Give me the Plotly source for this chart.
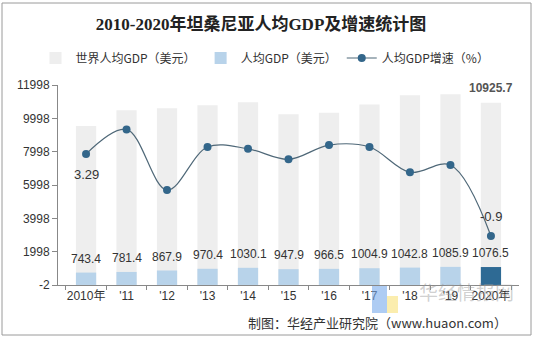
import plotly.graph_objects as go

years = ["2010年", "'11", "'12", "'13", "'14", "'15", "'16", "'17", "'18", "'19", "2020年"]
world_gdp = [9540, 10480, 10600, 10790, 10960, 10240, 10330, 10830, 11390, 11440, 10925.7]
tz_gdp = [743.4, 781.4, 867.9, 970.4, 1030.1, 947.9, 966.5, 1004.9, 1042.8, 1085.9, 1076.5]
tz_growth = [3.29, 4.55, 1.45, 3.65, 3.56, 3.02, 3.75, 3.65, 2.36, 2.73, -0.9]

W, H = 534, 338
L, R, T, B = 58, 15, 85, 53
pw, ph = W - L - R, H - T - B


def px(x):
    return (x - L) / pw


def py(y):
    return (H - B - y) / ph


font = "Liberation Sans, Arial, Noto Sans CJK SC, sans-serif"
cjk = "Noto Sans CJK SC, Liberation Sans, sans-serif"

fig = go.Figure()
fig.add_trace(go.Bar(
    x=years, y=world_gdp, name="世界人均GDP（美元）",
    marker=dict(color="#eeeeee", line=dict(width=0)), width=0.5,
))
fig.add_trace(go.Bar(
    x=years, y=tz_gdp, name="人均GDP（美元）",
    marker=dict(color=["#b8d3ea"] * 10 + ["#2e6a94"], line=dict(width=0)), width=0.5,
))
fig.add_trace(go.Scatter(
    x=years, y=tz_growth, name="人均GDP增速（%）", yaxis="y2",
    mode="lines+markers", line=dict(color="#4f6878", width=1.2, shape="spline", smoothing=1.0),
    marker=dict(color="#33668a", size=8),
))

ann = []
for i, v in enumerate(tz_gdp):
    ann.append(dict(x=i, y=v, xref="x", yref="y", text=f"{v}", showarrow=False,
                    yanchor="bottom", yshift=5, font=dict(size=12, color="#333333", family=font)))
ann.append(dict(x=len(years) - 1, y=world_gdp[-1], xref="x", yref="y", text=f"{world_gdp[-1]}",
                showarrow=False, yanchor="bottom", yshift=6,
                font=dict(size=12, color="#555555", family=font, weight="bold")))
ann.append(dict(x=0, y=tz_growth[0], xref="x", yref="y2", text=f"{tz_growth[0]}",
                showarrow=False, yanchor="top", yshift=-11,
                font=dict(size=13, color="#333333", family=font)))
ann.append(dict(x=len(years) - 1, y=tz_growth[-1], xref="x", yref="y2", text=f"{tz_growth[-1]}",
                showarrow=False, yanchor="bottom", yshift=10,
                font=dict(size=13, color="#333333", family=font)))
# watermark
ann.append(dict(x=px(466), y=py(291), xref="paper", yref="paper", text="华经情报网",
                xanchor="center", yanchor="middle",
                showarrow=False, font=dict(size=19, color="rgba(150,150,150,0.45)", family=cjk)))
# source
ann.append(dict(x=px(509), y=py(322), xref="paper", yref="paper",
                text="制图：华经产业研究院（www.huaon.com）", showarrow=False,
                xanchor="right", yanchor="middle",
                font=dict(size=13, color="#333333", family=cjk)))

shapes = [
    dict(type="rect", xref="paper", yref="paper", x0=px(2), x1=px(531), y0=py(335), y1=py(3),
         line=dict(color="#9a9a9a", width=1), fillcolor="rgba(0,0,0,0)", layer="below"),
    dict(type="rect", xref="paper", yref="paper", x0=px(372), x1=px(387), y0=py(313), y1=py(286),
         line=dict(width=0), fillcolor="rgba(120,170,235,0.6)", layer="above"),
    dict(type="rect", xref="paper", yref="paper", x0=px(387), x1=px(398), y0=py(313), y1=py(296),
         line=dict(width=0), fillcolor="rgba(250,230,140,0.7)", layer="above"),
]

fig.update_layout(
    width=W, height=H, margin=dict(l=L, r=R, t=T, b=B),
    paper_bgcolor="white", plot_bgcolor="white",
    barmode="overlay", bargap=0.5,
    title=dict(text="<b>2010-2020年坦桑尼亚人均GDP及增速统计图</b>", x=px(261), xref="paper",
               y=1 - 24 / H, yanchor="middle", xanchor="center",
               font=dict(size=17, color="#222222", family="Liberation Serif, Noto Sans CJK SC, serif")),
    legend=dict(orientation="h", x=px(265), xanchor="center", xref="paper", y=py(58), yanchor="middle",
                font=dict(size=12, color="#333333", family=cjk), itemwidth=30, traceorder="normal",
                bgcolor="rgba(0,0,0,0)", tracegroupgap=0),
    showlegend=True,
    xaxis=dict(type="category", tickson="boundaries", tickangle=0,
               ticks="outside", ticklen=4, tickcolor="#888888", showline=True, linecolor="#888888",
               tickfont=dict(size=12, color="#333333", family=font), showgrid=False),
    yaxis=dict(range=[-2, 11998], tickvals=[-2, 1998, 3998, 5998, 7998, 9998, 11998],
               ticktext=["-2", "1998", "3998", "5998", "7998", "9998", "11998"],
               ticks="outside", ticklen=5, tickcolor="#888888", showline=True, linecolor="#888888",
               showgrid=False, zeroline=False,
               tickfont=dict(size=12, color="#333333", family=font)),
    yaxis2=dict(range=[-3.4, 6.82], overlaying="y", side="right", visible=False, showgrid=False),
    annotations=ann, shapes=shapes,
)

fig.write_html("out.html")
